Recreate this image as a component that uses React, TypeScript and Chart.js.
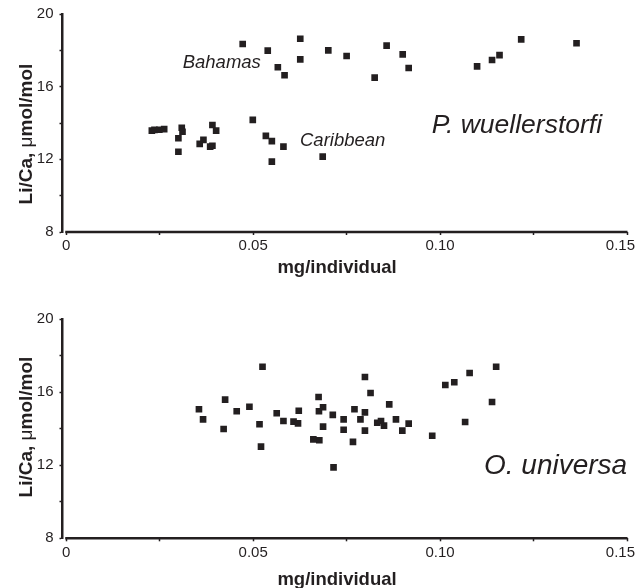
import React, { useEffect, useRef } from 'react';
import { Chart, registerables } from 'chart.js';

Chart.register(...registerables);

// ---- data ----
const X_TICKS = [0, 0.025, 0.05, 0.075, 0.1, 0.125, 0.15];
const X_TICK_LABELS = ['0', '', '0.05', '', '0.10', '', '0.15'];
const Y_TICKS = [8, 10, 12, 14, 16, 18, 20];
const Y_TICK_LABELS = ['8', '', '12', '', '16', '', '20'];
const X_TITLE = 'mg/individual';
const Y_TITLE_PARTS: [string, string][] = [
  ['Li/Ca, ', 'bold'],
  ['\u03bc', 'normal'],
  ['mol/mol', 'bold'],
];

const BAHAMAS_X = [0.0472, 0.0539, 0.0566, 0.0584, 0.0626, 0.0626, 0.0701, 0.075, 0.0825, 0.0857, 0.09, 0.0916, 0.1099, 0.1139, 0.1159, 0.1217, 0.1365];
const BAHAMAS_Y = [18.35, 17.98, 17.07, 16.63, 18.64, 17.5, 18.0, 17.69, 16.5, 18.26, 17.78, 17.03, 17.12, 17.47, 17.74, 18.6, 18.39];

const CARIBBEAN_X = [0.0229, 0.0236, 0.0249, 0.0262, 0.03, 0.03, 0.0309, 0.0311, 0.0357, 0.0367, 0.0385, 0.0391, 0.0391, 0.0401, 0.0499, 0.0534, 0.055, 0.055, 0.0581, 0.0686];
const CARIBBEAN_Y = [13.58, 13.62, 13.63, 13.66, 13.16, 12.42, 13.74, 13.52, 12.85, 13.07, 12.7, 12.75, 13.89, 13.58, 14.17, 13.29, 13.0, 11.87, 12.7, 12.15];

const UNIVERSA_X = [0.0355, 0.0366, 0.0421, 0.0425, 0.0456, 0.049, 0.0517, 0.0521, 0.0525, 0.0563, 0.0581, 0.0608, 0.062, 0.0622,
  0.0661, 0.0677, 0.0675, 0.0676, 0.0687, 0.0687, 0.0713, 0.0715, 0.0742, 0.0742, 0.0767, 0.0771, 0.0787, 0.0799, 0.0799, 0.0799,
  0.0814, 0.0832, 0.0842, 0.085, 0.0864, 0.0882, 0.0899, 0.0916, 0.0979, 0.1014, 0.1038, 0.1067, 0.1079, 0.1139, 0.115];
const UNIVERSA_Y = [15.07, 14.52, 13.99, 15.6, 14.96, 15.21, 14.25, 13.02, 17.4, 14.85, 14.43, 14.39, 14.3, 14.99,
  13.42, 13.37, 15.74, 14.96, 15.18, 14.12, 14.76, 11.89, 14.52, 13.95, 13.28, 15.07, 14.52, 16.84, 14.9, 13.9,
  15.96, 14.33, 14.43, 14.17, 15.34, 14.52, 13.9, 14.28, 13.62, 16.4, 16.55, 14.37, 17.06, 15.47, 17.4];

// ---- style ----
const INK = '#231f20';
const FONT = '"Liberation Sans", Arial, Helvetica, sans-serif';

type Note = { text: string; x: number; y: number; size: number };

type PanelProps = {
  top: number;
  height: number;
  areaTop: number;
  areaBottom: number;
  xLabelDy: number;
  xTitleY: number;
  yTitleY: number;
  series: { xs: number[]; ys: number[] }[];
  notes: Note[];
};

function Panel(props: PanelProps) {
  const ref = useRef<HTMLCanvasElement>(null);
  useEffect(() => {
    const canvas = ref.current!;
    const { height, areaTop, areaBottom, xLabelDy, xTitleY, yTitleY, series, notes } = props;

    const textPlugin = {
      id: 'panelTexts',
      afterDraw(chart: any) {
        const { ctx, chartArea, scales } = chart;
        ctx.save();
        // x axis line starting at x = 0
        const x0 = scales.x.getPixelForValue(0);
        ctx.strokeStyle = INK;
        ctx.lineWidth = 2.5;
        ctx.beginPath();
        ctx.moveTo(x0 - 1, chartArea.bottom);
        ctx.lineTo(chartArea.right + 0.5, chartArea.bottom);
        ctx.stroke();

        ctx.fillStyle = INK;
        // x tick labels (kept inside the canvas)
        ctx.font = `15px ${FONT}`;
        ctx.textAlign = 'center';
        ctx.textBaseline = 'middle';
        X_TICKS.forEach((v, i) => {
          const label = X_TICK_LABELS[i];
          if (!label) return;
          const px = scales.x.getPixelForValue(v);
          const w = ctx.measureText(label).width;
          const cx = Math.min(px, chart.width - 1 - w / 2);
          ctx.fillText(label, cx, chartArea.bottom + xLabelDy);
        });

        // x title
        ctx.font = `bold 18.5px ${FONT}`;
        ctx.textAlign = 'center';
        ctx.textBaseline = 'alphabetic';
        ctx.fillText(X_TITLE, 337, xTitleY);

        // y title (rotated, mixed weights)
        ctx.save();
        ctx.translate(32, yTitleY);
        ctx.rotate(-Math.PI / 2);
        ctx.textAlign = 'left';
        let total = 0;
        const widths: number[] = [];
        for (const [t, w] of Y_TITLE_PARTS) {
          ctx.font = `${w} 19px ${FONT}`;
          const m = ctx.measureText(t).width;
          widths.push(m);
          total += m;
        }
        let cx = -total / 2;
        Y_TITLE_PARTS.forEach(([t, w], i) => {
          ctx.font = `${w} 19px ${FONT}`;
          ctx.fillText(t, cx, 0);
          cx += widths[i];
        });
        ctx.restore();

        // notes
        for (const n of notes) {
          ctx.font = `italic ${n.size}px ${FONT}`;
          ctx.textAlign = 'left';
          ctx.fillText(n.text, n.x, n.y);
        }
        ctx.restore();
      },
    };

    const chart = new Chart(canvas, {
      type: 'scatter',
      data: {
        datasets: series.map((s) => ({
          data: s.xs.map((x, i) => ({ x, y: s.ys[i] })),
          pointStyle: 'rect',
          pointRadius: 4.7,
          pointBorderWidth: 0,
          backgroundColor: INK,
          borderColor: INK,
        })),
      },
      options: {
        responsive: false,
        animation: false,
        devicePixelRatio: 1,
        layout: { padding: { top: areaTop, left: 0, right: 9, bottom: 0 } },
        plugins: { legend: { display: false }, tooltip: { enabled: false } },
        scales: {
          x: {
            type: 'linear',
            min: -0.001,
            max: 0.15,
            afterBuildTicks: (s: any) => {
              s.ticks = X_TICKS.map((v) => ({ value: v }));
            },
            afterFit: (s: any) => {
              s.height = height - areaBottom;
              s.paddingLeft = 0;
              s.paddingRight = 0;
            },
            ticks: {
              display: false,
              autoSkip: false,
              maxRotation: 0,
            },
            grid: { drawOnChartArea: false, drawTicks: true, tickLength: 3, tickWidth: 1.5, tickColor: INK },
            border: { display: false },
          },
          y: {
            type: 'linear',
            min: 8,
            max: 20,
            afterBuildTicks: (s: any) => {
              s.ticks = Y_TICKS.map((v) => ({ value: v }));
            },
            afterFit: (s: any) => {
              s.width = 62.5;
              s.paddingTop = 0;
              s.paddingBottom = 0;
            },
            ticks: {
              autoSkip: false,
              padding: 6,
              color: INK,
              font: { family: FONT, size: 15 },
              callback: (_v: any, i: number) => Y_TICK_LABELS[i],
            },
            grid: { drawOnChartArea: false, drawTicks: true, tickLength: 3, tickWidth: 1.5, tickColor: INK },
            border: { display: true, width: 2.5, color: INK },
          },
        },
      },
      plugins: [textPlugin],
    } as any);
    return () => chart.destroy();
  }, []);

  return (
    <div style={{ position: 'absolute', left: 0, top: props.top, width: 636, height: props.height }}>
      <canvas ref={ref} width={636} height={props.height} style={{ width: 636, height: props.height, display: 'block' }} />
    </div>
  );
}

export default function App() {
  return (
    <div style={{ position: 'absolute', left: 0, top: 0, width: 636, height: 588, background: '#fff', overflow: 'hidden' }}>
      <Panel
        top={0}
        height={294}
        areaTop={14}
        areaBottom={232}
        xLabelDy={13.5}
        xTitleY={273.3}
        yTitleY={134}
        series={[
          { xs: BAHAMAS_X, ys: BAHAMAS_Y },
          { xs: CARIBBEAN_X, ys: CARIBBEAN_Y },
        ]}
        notes={[
          { text: 'Bahamas', x: 182.7, y: 68.3, size: 18.5 },
          { text: 'Caribbean', x: 300, y: 146, size: 18.5 },
          { text: 'P. wuellerstorfi', x: 431.7, y: 133.3, size: 26.5 },
        ]}
      />
      <Panel
        top={294}
        height={294}
        areaTop={25.3}
        areaBottom={244.3}
        xLabelDy={14.5}
        xTitleY={290.5}
        yTitleY={133}
        series={[{ xs: UNIVERSA_X, ys: UNIVERSA_Y }]}
        notes={[{ text: 'O. universa', x: 484, y: 180.3, size: 28 }]}
      />
    </div>
  );
}
